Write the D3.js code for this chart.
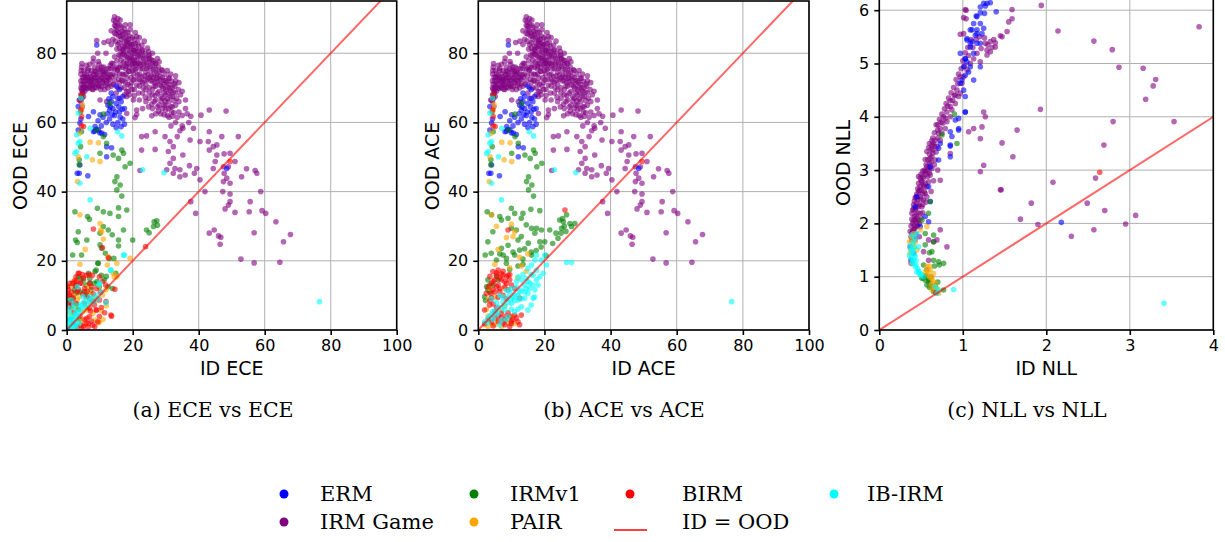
<!DOCTYPE html>
<html>
<head>
<meta charset="utf-8">
<script src="https://cdn.jsdelivr.net/npm/d3@7"></script>
<style>
  body { margin: 0; background: #fff; }
  svg { display: block; }
</style>
</head>
<body>
<div id="chart"></div>
<script>
// methods, legend order and colours
const methods = ["ERM", "IRM Game", "IRMv1", "PAIR", "BIRM", "IB-IRM"];
const methodColors = ["blue", "purple", "green", "orange", "red", "cyan"];
const drawOrder = ["IRM Game", "ERM", "IRMv1", "PAIR", "BIRM", "IB-IRM"];

// ---------- ECE (ID, OOD) ----------
const eceIrmGame = [
  // left streak + band
  [4.3,66],[4.3,68],[4.3,70],[4.3,72],[4.3,74],[4.5,76],[4.8,69],[4.8,73],[4.6,77],
  [5,70],[5,72],[5.5,74],[6,71],[6.5,73],[7,70],[7.5,72.5],[8,71],[8.5,73],[9,70],[9,74],
  [9.5,72],[10,70.5],[10.5,73],[11,71.5],[11.5,69.5],[12,72],[12.5,70],[6.5,75.5],[7.5,75],
  [8.5,76],[9.5,75.5],[10.5,76],[11,74.5],[12.5,74],[13,72.5],[13.5,70.5],[5.5,69],[8,69.5],
  [5.2,71],[5.8,73],[6.3,69.8],[6.8,72],[7.2,74],[7.8,70.8],[8.3,72.5],[8.8,74.6],[9.3,71.2],
  [9.8,73.5],[10.3,69.5],[10.8,71.8],[11.3,73.8],[11.8,70.6],[12.3,73],[12.8,75.5],[13.3,73.8],
  [5.1,67.5],[4.7,64.5],[5.2,75],[4.5,71],[6,76.5],[7,76.8],[8,77.5],
  [4.6,67],[4.9,68.5],[5.3,70.2],[5.6,71.8],[6,73.6],[6.4,75],[6.7,70.5],[7.1,71.8],[7.4,73.2],
  [7.7,69.6],[8.2,73.8],[8.6,70.2],[8.9,71.8],[9.2,73],[9.6,70.6],[10,72.2],[10.4,74.6],
  [10.6,70.4],[11,73],[11.5,72.3],[11.9,74.2],[12.2,71.2],[12.7,72.8],[13.1,71.2],[13.6,73.2],
  [6.2,72.3],[7.4,71],[8.5,74.8],[9.8,76.8],[11.2,76],[12,75.5],[13.2,76.5],[5.2,73.2],
  [4.5,69.5],[4.4,75],
  // blob
  [14,74],[14.5,72],[15,76],[15.5,70],[16,74],[16.5,78],[17,72],[17,76],[17.5,68],[18,74],
  [18,79],[18.5,71],[19,76],[19.5,73],[19,68],[20,78],[15,68.5],[16,67],[14,77],[13.5,75.5],
  [17.5,70],[18.5,77],[20,75],[16,71.5],[14.2,71],[14.8,73.5],[15.3,75],[15.8,72.5],[16.3,76.5],
  [16.8,74],[17.3,77.5],[17.8,75.5],[18.3,72.8],[18.8,74.8],[19.3,77.8],[19.8,76.5],[20.3,74],
  [20.6,77],[14.5,79],[15.8,79.5],[17,79.8],[18,77],[16.5,70],[17.8,71.5],[19.2,70.5],[18.7,69],
  [14.5,75.5],[15.2,77.8],[16,75.8],[16.7,72.3],[17.3,73.8],[18,76.2],[18.5,78.6],[19,74.8],
  [19.6,71.5],[20.2,72.3],[20.8,75.2],[21.5,73.8],[21.2,70.8],[20.5,67.8],[19.8,69.5],[18.2,67.5],
  [21.8,68.5],[22.5,71.8],[23.2,70],[22.8,73.2],[21.6,79.5],[20.5,80.8],[19.6,82.5],[18.3,83.5],
  [17.2,80.5],[16.2,79.2],[15.2,81.2],[14.8,83.5],[14.5,85.8],[14.9,87.8],[16.3,85],[17.6,81.8],
  // ridge
  [14.2,89.5],[14.5,88],[15,87],[15.5,88.5],[15,85.5],[16,86],[16.5,84],[17,85.5],[17.5,83],
  [18,84.5],[18.5,82],[19,83],[19.5,81],[20,82.5],[20.5,80],[21,81.5],[21.5,79],[22,80.5],
  [22.5,78],[23,79.5],[23.5,77],[24,78.5],[24.5,76],[25,77.5],[25.5,75],[26,76.5],[26.5,74],
  [27,75.5],[27.5,73],[28,74.5],[28.5,72],[29,73],[29.5,71],[30,72],[30.5,70],[31,71],
  [31.5,69],[32,70],[30,68],[29,67],[29.5,65],[30,63.5],[31,66],[32,67.5],[28,69],[27,70.5],
  [26,72],[25,73],[24,74.5],[23,75.5],[22,77],[21,78],[20,79.5],[19,80.5],[18,81.5],[17,82],
  [16,83],[15.5,82.5],[16.5,80.5],[17.5,79.5],[19,78.5],[21,75.5],[22,74],[20.5,84],[19,85],
  [17.5,87],[16.5,87.5],[15.5,90],[14.5,90.5],[13.5,86.5],[14,84],[13.5,82.5],[25,70],[26,68],
  [27,66.5],[28,65],[28.5,62.5],[30.5,62],[33,68.5],[34,71.5],[33,72],[35,69],[34,66],
  [32,64.5],[31,61.5],[27,62.5],[26,64],[24,66],[23,68.5],[22,70.5],[24,71],[26,69.5],
  [21,72.5],[23,64],[20.5,69.5],[22,66.5],[25,67],[36,66.5],[36,64],[33.5,61.5],[35,59],
  [37,60],[33,60],[18.5,86],[21.5,83],[23,81],[25,79.5],[27,77],[29,75],
  [14.8,89],[15.3,86.5],[15.8,85],[16.2,88],[16.8,86.3],[17.3,84.5],[17.8,86],[18.2,83],
  [18.8,84],[19.3,82],[19.8,84.5],[20.3,81],[20.8,82.8],[21.3,80.5],[21.8,82],[22.3,79.3],
  [22.8,80.8],[23.3,78.5],[23.8,80],[24.3,77.3],[24.8,79],[25.3,76.3],[25.8,78],[26.3,75.3],
  [26.8,77],[27.3,74.3],[27.8,76],[28.3,73.3],[28.8,75.2],[29.3,72.2],[29.8,74],[30.3,71.5],
  [30.8,72.8],[31.3,70],[31.8,71.8],[32.3,68.8],[32.8,70.5],[33.3,67],[33.8,69.5],[34.5,68],
  [30.5,66.8],[29.5,68.5],[28.5,67.5],[28.8,70.5],[27.5,68.5],[26.5,70.5],[25.5,72],[24.5,72.5],
  [23.5,73.5],[22.5,75.5],[21.5,77],[20.5,78],[29,64],[30,65],[31.5,64.5],[31.8,63],[29.5,62.2],
  [32.5,62.8],[16,81.5],[17,81],[18.5,80],[19.5,79],[20,77],[21,76.5],[22,72.5],[23,71.5],
  [24,69.5],[25,68.5],[26.5,66],[27.5,64.5],[35,62],[34,63],[36.5,62.5],[20.8,86],[22,84.5],
  [23.5,83.5],[24.5,81.5],[26,80],[27.5,78.5],[28,77.5],[30.5,75],[31.5,74],[33,73.5],
  [22.2,76.5],[23.2,76.8],[24.2,75.6],[24.6,73.8],[25.6,73.5],[26.2,73],[26.8,71.5],[27.6,71.8],
  [28.2,70.8],[29.2,69.8],[30,69.5],[30.8,68.5],[31.5,67.5],[32.5,66.3],[33,65],[32,61.8],
  [30.8,64],[28.6,66.2],[27.8,63.3],[29.8,66.3],[26.8,67.8],[25.8,65.3],[24.8,64.5],[23.8,67.3],
  [25.2,78.5],[26.2,77.8],[24.8,80.5],[22.8,82.3],[21.2,84.8],[19.2,86.8],[17.8,88.2],[16.2,89.6],
  [23.8,72.3],[27.2,72.8],[31.2,72.8],[32.6,71.2],
  // sparse upper
  [9.1,83.7],[11.3,83.1],[12.6,83.5],[9.6,77.6],[9.4,80],[11.9,80],[13.6,77.1],[8.1,78.6],
  [10.1,75.2],[15.4,75.2],[11.4,74.7],[7.6,72.3],[5.9,69.9],[19.2,88.2],[10.1,66.5],
  [12.1,66],[18.2,68.9],[20.2,66.5],[21.2,63.6],[21.2,62.3],[25.8,61.9],[18.2,62.6],[20.7,61.4],
  // sparse middle / right
  [22.7,55.9],[26.8,57.3],[24.2,56.1],[22.7,52],[26.8,52.2],[30.8,51.6],[32.3,53],[31.3,54.5],
  [29.8,55.9],[33.5,55.9],[35.2,50.6],[32.3,45.3],[30.3,46.3],[31.6,59],[34.3,57.6],[37.4,54.9],
  [22.2,46.1],[34.3,46.3],[35.9,44.8],[38.7,45.3],[39.4,46.7],[37.2,47.5],[32.8,46.7],
  [31.3,48.2],[32.3,49.6],[34.3,44.3],[40.4,43.4],[35.2,58.3],[38.4,58.3],[37.6,61.8],
  [40.7,62.1],[43.2,63.6],[48.3,63.3],[43.2,57.3],[47,55.9],[52,55.9],[40.4,54.5],[42.9,54.5],
  [44.4,53],[45.5,53.5],[43.2,52],[45.5,50.6],[47.7,50.9],[49.5,51.1],[51,48.7],[45,48.7],
  [44.4,46.7],[47.5,47.2],[49,47.2],[54.5,46.6],[57.1,46.1],[57.6,45.3],[47.7,45.3],[48.5,43.9],
  [53,44.3],[47.5,42.9],[49.5,42.4],[41.9,40],[47.3,40],[49.5,39.3],[58.8,40],[55.6,37.1],
  [49.5,37.1],[49,36.1],[48,35],[51,34],[55.3,34.2],[59.2,34.5],[60.3,33.7],[39.1,33.7],
  [37.6,37.1],[43.2,28],[44.7,28.9],[46,27.2],[46.7,26.8],[46.5,24.8],[56.8,28.1],[63.4,31.3],
  [65.7,25.5],[67.8,27.6],[52.8,20.5],[56.8,19.4],[64.6,19.6]
];
const eceErm = [
  [12.5,65],[13,63.5],[13.5,66],[14,64],[14.5,62],[15,65.5],[15.5,60],[16,63],[16.5,66],
  [17,61],[17.5,64],[13,61],[14,59.5],[15,58.5],[16.5,58.8],[12.3,62.5],[17,67.5],[15.5,67],
  [14,67.5],[13.5,68.5],[16,69.5],[15,70.5],[17.5,59.5],[12,60],[11,61.5],[10.5,59],[9.5,60.5],
  [9,58],[10,57],[11.5,56.5],[8.5,57.5],[9.1,82.4],[3.5,64.6],[3.8,45.3],[3.2,45.3],[6.4,44.6],
  [8.1,63.1],[8.6,58.8],[9.6,57.8],[8.1,57.3],[10.6,56.9],[6.6,61.7],[10.1,62.2],[12.1,53],
  [13.6,52.7],[12.1,50.1],[4,47.7],[48.5,46.7],[3.8,66.5],[4,59.8],[3.5,57.8],[4.3,61],
  [13.2,64.5],[14.8,63],[16.2,61.5],[15.8,64.5],[13.8,62.2],[16.8,63.8],[12.8,66.8]
];
const irmv1Upper = [
  [11.1,62.4],[13.1,65.5],[9.1,57.8],[11.1,55.9],[12.1,54],[10.1,51.1],[14.1,50.6],[16.7,52],
  [17.2,51.1],[15.7,49.6],[19.2,48.2],[17.7,47.2],[15.2,44.3],[16.2,41.9],[16.7,38.7],
  [15.2,40.5],[14.6,42.9],[4.5,67.5],[4.2,63],[4.5,57.3],[4.2,53],[3.8,49.2],[3.8,47.8]
];
const eceIrmv1Low = [
  [18.2,34.7],[15.7,35.3],[13.1,33.7],[11.1,34.2],[9.3,35.2],[2.5,34.2],[6.3,32.8],[6.9,32],
  [3.5,28.4],[2.7,26],[3.2,25.3],[4.5,21.7],[1.8,21.7],[6.1,26],[10.1,28],[11.1,29.9],
  [12.6,28.9],[13.8,27.5],[10.1,24.6],[10.6,23.6],[11.7,22.2],[12.9,20.7],[14.3,20.7],
  [9.6,19.3],[8.6,16.9],[6.6,16.4],[5.1,14.5],[7.1,13.5],[3.5,15.4],[24.2,28.9],[25,28.1],
  [26.5,31.3],[27.3,31.6],[27.5,30.3],[26.3,29.9],[20,26],[17.2,28.9],[15.7,32.8],[15.7,26],
  [15.7,24.3],[8.4,13.5],[9.9,12.5],[11.4,14.5],[7.4,11.6],[5.4,11.1],[2.8,10.6],[2.3,11.6],
  [8.9,17.3],[9.4,19.3],[13.9,12],[14.9,16.4],[4.3,14.9],[1,9],[3,7.5],
  [0.8,8],[1.8,9.2],[2.8,13],[4,11],[5.8,13],[7,14.8],[9.2,14],[10.5,15.8],[6.2,10],[3.5,6],
  [1.5,6.5],[12.5,12.5],[12,15.5],[3.8,3]
];
const pairUpper = [
  [4.5,63.6],[3.8,56.9],[7.1,54.3],[9.6,54.1],[7.8,49.2],[10.1,48.7],[3.3,42.9],[3.5,50.1],[4.8,65]
];
const ecePairLow = [
  [4,33.3],[10.1,30.8],[10.6,28.4],[11.1,26.3],[5.6,23.3],[4,19],[12.3,18.8],[12.6,21.2],
  [15.2,19.3],[19.2,20.7],[10.3,28.9],[15.2,15.4],[14.1,16.4],[6.3,12.5],[9.6,2.1],[8.6,2.9],
  [6.3,5.8],[2.5,7.2],[1.5,3.9],[4.7,2.9],[1,5.3],[4.9,5.3],[7.9,4.8],[9.9,2.4],[1.8,5.8],
  [2.8,3.4],[8.4,9.6],[9.7,12.5],[7.4,7.7],[3.8,9.6],[10.9,10.1],[11.9,11.6],[14.4,15.4],
  [2,10],[3.2,8.7],[6,6.5],[7,11],[8.8,8.5],[5,1.5],[3.2,1],[11,3],[12,7],[10.5,5.5],[1,12.5],[2,14]
];
const birmUpper = [
  [4.5,68],[4,66.5],[4.5,61.7],[4.5,59],[5.1,58.8],[4.3,63.6],[49.5,48.7]
];
const eceBirmLow = [
  [8.1,29.2],[10.8,23.8],[12.6,20.9],[14.6,11.8],[13.6,4],[23.9,24.1],[3.5,16.4],[2.8,15.4],
  [4,13.5],[1,13.5],[0.5,11.6],[0.5,7.7],[2,9.2],[8.1,8.2],[9.1,5.8],[6.1,3.4],[6.6,1.9],
  [5.1,1],[3.8,16.4],[4.3,13.5],[1.8,13.5],[5.4,12],[6.9,13.5],[7.5,12.5],[9.9,15.4],[10.9,14],
  [1.3,9.6],[2.8,7.7],[5.9,9.6],[5.4,7.7],[6.9,6.3],[8.9,5.8],[9.9,3.9],[6.9,3.9],[5.9,1.9],
  [7.9,1.4],[9.4,2.4],[4.3,1.4],[8.4,7.2],[13.4,4.3],[11.9,8.2],[9.9,8.7],[0.3,12.5],
  [0.3,10.6],[0.8,6.7],[3.2,11],[6,15.8],[4.8,16],
  [1.5,11],[2.5,12.8],[3.5,11.8],[4.8,10.5],[6.2,11.2],[7,9],[8,10.5],[9,12],[1,3],[2,2],[3,1],
  [4.5,0.5],[5.5,3],[7.5,2.5],[8.5,1],[6.5,0.8],[7.2,5.5],[10.5,6.5],[11.5,5],[4,4],[2.2,5],
  [1.5,8],[0.8,10],[3,14],[5,15],[7.8,15.8],[10.2,11],[11.8,13],[6.8,16],[2.5,14.3]
];
const ibirmUpper = [
  [3.5,62.7],[7.1,58.3],[16.7,56.1],[15.4,57.3],[3,56.4],[3.5,54],[2.5,51.1],[6.1,50.1],
  [4,42.4],[23,46.3],[29.5,45.5],[4.3,67],[4,54.5],[3,51.6]
];
const eceIbIrmLow = [
  [7.1,37.6],[17.2,21.7],[13.3,17.3],[10.1,13.5],[76.6,8.2],[0.3,1],[1.3,1.9],[0.8,2.9],
  [2.3,2.9],[1.8,4.3],[3.3,3.9],[2.8,5.3],[0.8,5.3],[4.3,5.8],[3.8,7.2],[5.4,6.7],[5.9,8.7],
  [4.9,9.6],[6.9,8.2],[7.9,9.2],[8.9,10.1],[3.8,1.9],[0.3,3.9],[11.9,7.9],[13.4,17.3],
  [17.5,21.7],[9.7,13],[1.3,8.7],[3.3,12.5],[1.5,0.8],[2.5,1.5],[0.6,0.5],[2,6.5],[1.2,3.2],
  [1,1],[2,1],[3,2.2],[0.5,2],[1.5,3],[2.5,4],[3.5,5],[4.5,7],[5,8],[0.4,6.5],[2.2,7.5],
  [6.2,7.2],[7,9.5],[8,8],[9.5,9],[10.5,11],[1.2,0.3],[2.8,0.6],[0.3,0.3]
];

// ---------- ACE (ID, OOD) ----------
const aceIrmGame = eceIrmGame;
const aceErm = eceErm;
const aceIrmv1Low = [
  [2.7,34.2],[4,33.3],[6.5,32.8],[7,31.8],[10,35.2],[9,32.3],[11,33.7],[13,32.3],[13.5,33.7],
  [15.9,34.9],[18.6,34.5],[14.5,30.4],[16.1,29.4],[17.6,29.4],[19.1,28.9],[21.6,28.9],[17.1,28],
  [18.6,25.5],[20.1,25.5],[24.6,31.8],[25.7,31.3],[26,30],[25.2,29.4],[27.7,30.8],[28.2,29.9],
  [26.7,33.3],[25.5,32.2],[24.1,26.5],[29.2,30.8],[4.4,28.4],[2.9,25.5],[2.1,21.7],[3.9,22.2],
  [5.5,20.2],[7,23.6],[7.5,21.7],[8.5,20.7],[11,21.7],[12.5,23.1],[12,26],[11.5,28.9],[13,27],
  [15.1,25.1],[16.1,21.7],[8.5,19.3],[2.9,14.5],[2.9,11.6],[1.9,9.6],[10,29.4],[3.5,13],
  [5.5,15.5],[13.5,19],[25,28],[26.5,28.5],[16,22.5],
  [2.5,12.5],[3.5,11],[2.2,8.5],[4.5,13],[6,14.5],[9.5,17.5],[12,18.5],[13.5,20.5],[10.5,22.5],
  [6.5,22],[9,24.5],[14,23.5],[17.5,23],[19,24],[20.5,21.5],[22.5,25],[23.5,28]
];
const acePairLow = [
  [4,33.3],[10,30.6],[11,28.4],[10.5,27],[6,23.3],[12.5,21],[13,18.5],[5,19],[3.5,12],
  [5,9.5],[8,7],[10,4],[3,4],[6,2.5],[12,15],[14.5,17],[15,22],[5.5,30],[8.5,26.7],[2,1.5],
  [9,3],[7,5.5],[3,1],[4,2],[5,1.5],[7,1],[9,2],[11,1.8],[2.5,6],[3,9],[8,12],[9.5,18]
];
const aceBirmLow = [
  [26.2,34.7],[9,28.9],[4.4,16.9],[6,17.3],[7.5,15.9],[8.5,15.4],[9.5,14.5],[7,14.5],[5,14.5],
  [4,13.5],[6,13],[8,12.5],[10,13],[3,12.5],[4.4,11.6],[6.5,11.1],[9,11.6],[2.4,10.6],[4,9.2],
  [3.4,7.2],[1.9,5.8],[5,5.3],[7,4.8],[9.5,3.9],[8,2.9],[6,2.4],[11,4.3],[12,2.4],[10,1.9],
  [4,2.4],[13,4.3],[12.5,9.2],[1.9,1.9],[5.5,15.8],[7,16.2],[8,14],[6.5,12],[3.5,8.5],[8.5,4],
  [10.5,3],[7,3.5],[5,3.5],[11,12],[9,15.8],[5.5,12.5],
  [3.5,15.5],[4.5,14],[5.5,16.5],[6.5,15],[7.5,17],[8.5,13.5],[9.5,16],[3.8,10.5],[5,11],
  [6,9.5],[7.5,10],[8.5,9],[4.5,7.5],[6,4],[7.5,2],[9,5],[10,2.5],[11.5,3.5],[12.5,1.5],
  [4.5,1.2],[3,3],[5.5,6.5],[8,1.5],[9.5,1]
];
const aceIbIrmLow = [
  [7,37.6],[26.7,19.5],[28.2,19.5],[17.6,21.7],[20.1,21.7],[20.6,18.8],[19.1,20.2],[17.1,20.2],
  [16.1,18.8],[15,17.8],[17.6,17.3],[16.6,15.9],[14.5,14.9],[13,14.5],[15.6,13.5],[17.6,14.5],
  [17.1,11.6],[15,10.6],[16.6,9.2],[14,9.2],[12,8.7],[13,6.7],[15,5.8],[16,7.2],[11,10.1],
  [10,12],[11.5,12.5],[9,9.6],[7.5,8.2],[6,6.7],[4.4,5.3],[3.4,3.9],[1.9,2.4],[10,7.7],[8,5.8],
  [11,5.3],[9,3.9],[7,2.9],[5.4,4.3],[13.5,16],[12,15.4],[18.1,13],[18.6,15.4],[19.6,16.4],
  [76.6,8.2],[4,9],[6.5,10],[8.5,11.5],[12.5,11],[14.5,12],[2.8,2],[4.5,3],[10.5,9.5],
  [3,3.5],[4,4.5],[5,5.5],[6,5],[7,6.5],[8,7],[9,8],[10,9],[11,8.5],[12,10],[13,11.5],[14,13],
  [15,14],[16,16],[14,11],[13,9],[12,6],[10,6],[8.5,3],[6.5,1.5],[15.5,12],[16.5,13],[17,9.5],
  [11.5,14],[9.5,11],[7.5,9.5],[5.5,8]
];

// ---------- NLL (ID, OOD) ----------
const nllIrmGame = [
  [0.41,1.88],[0.4,2],[0.42,2.13],[0.43,2.25],[0.45,2.38],[0.44,2.5],[0.47,2.59],[0.49,2.69],
  [0.51,2.78],[0.52,2.88],[0.55,2.97],[0.57,3.06],[0.6,3.13],[0.63,3.25],[0.64,3.38],[0.65,3.5],
  [0.67,3.56],[0.71,3.69],[0.73,3.78],[0.76,3.88],[0.79,3.97],[0.81,4.09],[0.85,4.19],
  [0.88,4.31],[0.91,4.41],[0.93,4.5],[0.99,4.63],[1.01,4.75],[1.05,4.88],[1.09,5],[1.13,5.09],
  [1.17,5.19],[1.22,5.28],[1.27,5.38],[1.33,5.41],[1.37,5.45],[1.47,5.5],[1.21,5.03],[1.29,5.25],
  [1.01,5.56],[1.04,5.84],[1.04,6],[0.39,1.81],[0.45,1.94],[0.47,2.06],[0.49,2.19],[0.51,2.31],
  [0.53,2.44],[0.55,2.56],[0.57,2.69],[0.59,2.78],[0.61,2.91],[0.63,3.03],[0.58,2.88],
  [0.53,2.69],[0.49,2.5],[0.43,2.06],[0.39,2.19],[0.47,2.31],[0.67,3.19],[0.68,3.34],
  [0.63,3.47],[0.69,3.44],[0.73,3.56],[0.75,3.69],[0.79,3.78],[0.81,3.91],[0.85,4],[0.87,4.13],
  [0.91,4.25],[0.95,4.38],[0.97,4.44],[0.85,3.31],[0.73,2.81],[0.73,1.88],[0.81,1.56],
  [0.59,1.69],[0.65,1.66],[0.69,1.69],[0.53,1.47],[0.59,1.31],[1.07,3.72],[1.13,3.78],
  [1.23,3.81],[1.21,3.59],[1.25,3.09],[1.21,2.97],[1.27,4],[1.25,4.09],[1.45,2.63],
  [1.94,6.09],[2.14,5.61],[2.57,5.42],[2.79,5.26],[2.87,4.93],[3.16,4.91],[3.31,4.7],[3.28,4.58],
  [3.19,4.33],[3.83,5.69],[3.53,3.91],[2.8,3.91],[1.93,4.14],[1.65,3.75],[1.47,3.51],[1.6,3.25],
  [2.69,3.47],[2.59,2.85],[2.08,2.77],[1.46,2.63],[1.82,2.38],[2.49,2.38],[2.7,2.24],[3.07,2.15],
  [1.69,2.08],[1.9,1.98],[2.95,1.99],[2.57,1.88],[2.3,1.76],[1.59,6.01],[1.03,6.01],[1.01,5.86],
  [0.97,5.55],[1.55,5.78],[1.59,5.84],[1.53,5.6],[1.45,5.52],[1.39,5.39],[1.39,5.31],[1.33,5.22],
  [1.29,5.16],[0.41,2.35],[0.44,2.15],[0.46,1.95],[0.5,2.45],[0.54,2.6],[0.6,2.95],[0.66,3.1],
  [0.38,1.75],[0.4,1.85],[0.42,1.95],[0.38,1.95],[0.41,2.05],[0.45,2.1],[0.4,2.25],[0.44,2.3],
  [0.42,2.42],[0.46,2.45],[0.45,2.55],[0.48,2.62],[0.47,2.75],[0.5,2.8],[0.53,2.85],[0.5,2.92],
  [0.54,3],[0.56,3.1],[0.58,3.2],[0.6,3.3],[0.62,3.4],[0.6,3.5],[0.64,3.6],[0.66,3.7],[0.7,3.75],
  [0.68,3.85],[0.72,3.95],[0.75,4.05],[0.78,4.15],[0.8,4.25],[0.83,4.35],[0.86,4.45],[0.89,4.55],
  [0.92,4.7],[0.95,4.8],[0.98,4.9],[1.0,5.05],[1.03,5.2],[1.06,5.3],[1.1,5.45],[0.44,1.8],
  [0.52,2.2],[0.56,2.4],[0.62,2.6],[0.65,2.8],[0.7,3.0],[0.62,3.15],[0.57,2.5],[0.5,2.1],
  [0.48,1.75],[0.43,1.7],[0.4,1.72],
  [0.37,1.85],[0.39,2.08],[0.41,2.28],[0.43,2.48],[0.46,2.65],[0.49,2.85],[0.52,2.98],[0.55,3.2],
  [0.57,3.35],[0.59,3.42],[0.63,3.55],[0.66,3.45],[0.7,3.6],[0.61,3.22],[0.58,3.0],[0.55,2.75],
  [0.52,2.55],[0.48,2.35],[0.46,2.2],[0.42,1.9],[0.45,2.02],[0.5,2.62],[0.53,2.72],[0.56,2.92],
  [0.6,3.05],[0.64,3.32],[0.7,3.85],[0.74,3.9],[0.77,4.0],[0.82,4.2],[0.85,4.3],[0.9,4.4],
  [0.94,4.62],[0.97,4.75],[1.02,4.95],[1.07,5.15],[1.12,5.3],[1.16,5.45],[1.2,5.5],[1.26,5.48],
  [1.3,5.35],[1.35,5.3],[0.48,2.0],[0.52,2.35],[0.47,2.88]
];
const nllErm = [
  [1.29,6.13],[1.25,6.13],[1.21,6.06],[1.26,5.94],[1.17,5.88],[1.13,5.75],[1.21,5.75],[1.09,5.63],
  [1.17,5.63],[1.15,5.53],[1.23,5.56],[1.05,5.44],[1.11,5.41],[1.17,5.38],[0.97,5.19],[1.09,5.31],
  [1.03,5.09],[1.05,5.03],[1.09,4.94],[1.01,4.94],[1.03,4.78],[0.99,4.69],[1.01,4.5],[0.97,4.63],
  [1.03,4.38],[1.03,4.09],[0.91,3.94],[0.95,3.97],[0.95,3.78],[0.85,3.72],[0.87,3.63],[0.85,3.45],
  [0.73,3.5],[0.71,3.41],[0.85,3.25],[0.71,3.19],[0.61,3.06],[0.59,2.69],[0.61,2.41],[0.45,2.5],
  [0.43,2.31],[0.55,2.13],[0.59,2.03],[0.49,1.94],[0.39,1.69],[0.37,1.56],[0.41,1.44],[0.38,1.31],
  [1.16,5.89],[1.21,5.95],[1.27,6.08],[1.33,6.14],[1.4,5.97],[1.11,5.63],[1.17,5.56],[1.25,5.66],
  [1.05,5.47],[1.09,5.38],[1.21,5.38],[1.13,5.19],[1.03,5.09],[1.21,4.94],[1.07,4.84],[1.13,4.69],
  [1.03,4.09],[0.95,3.75],[0.85,3.47],[2.18,2.02]
];
const nllIrmv1 = [
  [0.75,3.66],[0.93,3.5],[0.61,2.41],[0.59,2.19],[0.51,2.06],[0.55,1.81],[0.65,1.78],[0.63,1.47],
  [0.65,1.31],[0.71,1.28],[0.77,1.25],[0.53,1.22],[0.57,1.13],[0.51,0.97],[0.55,0.94],[0.59,0.91],
  [0.63,0.81],[0.67,0.84],[0.65,0.72],[0.61,0.88],[0.77,0.75],[0.57,1],[0.9,4.05],[0.6,0.95],
  [0.55,1.02],[0.53,0.98],[0.57,0.85],[0.6,0.8],[0.66,0.75],[0.68,0.78],[0.7,0.9],[0.62,1.0],
  [0.66,1.2],[0.72,1.22],[0.6,1.45],[0.65,1.65],[0.55,1.6]
];
const nllPair = [
  [0.41,1.81],[0.49,1.88],[0.57,1.94],[0.41,1.56],[0.45,1.5],[0.39,1.75],[0.57,1.19],[0.61,1.13],
  [0.59,1.03],[0.63,0.97],[0.67,0.88],[0.69,0.78],[0.55,1.09],[0.65,1.06],[0.71,0.69],[0.63,0.75],
  [0.37,1.44],[0.43,1.65],[0.38,1.5],[0.4,1.62],[0.36,1.65],[0.39,1.7],[0.6,1.0],[0.62,0.85],
  [0.66,0.8],[0.64,0.92],[0.6,1.2],[0.7,0.72],[0.58,1.1]
];
const nllBirm = [[2.64,2.96],[0.38,1.25],[0.68,0.7]];
const nllIbIrm = [
  [0.39,1.78],[0.41,1.66],[0.47,1.56],[0.39,1.47],[0.43,1.38],[0.39,1.25],[0.43,1.19],[0.45,1.09],
  [0.49,1.03],[0.69,0.69],[0.71,0.75],[0.89,0.76],[0.67,0.81],[0.37,1.53],[0.43,1.72],[0.45,1.81],
  [0.53,1],[3.41,0.5],[0.41,1.32],[0.47,1.1],[0.38,1.6],[0.4,1.5],[0.42,1.42],[0.38,1.35],
  [0.4,1.28],[0.44,1.22],[0.46,1.15],[0.48,1.07],[0.5,1.05],[0.44,1.3],[0.42,1.55],[0.36,1.4]
];

const eceTicks = [0, 20, 40, 60, 80, 100];
const eceYTicks = [0, 20, 40, 60, 80];
const nllTicks = [0, 1, 2, 3, 4];
const nllYTicks = [0, 1, 2, 3, 4, 5, 6];
const captions = ["(a) ECE vs ECE", "(b) ACE vs ACE", "(c) NLL vs NLL"];

const panels = [
  { left: 66.7, right: 396.7, top: 1, xMax: 100, yMax: 95.1, xTicks: eceTicks, yTicks: eceYTicks,
    xLabel: "ID ECE", yLabel: "OOD ECE", yLabelX: 20, caption: captions[0],
    data: { "ERM": eceErm, "IRM Game": eceIrmGame, "IRMv1": irmv1Upper.concat(eceIrmv1Low),
            "PAIR": pairUpper.concat(ecePairLow), "BIRM": birmUpper.concat(eceBirmLow),
            "IB-IRM": ibirmUpper.concat(eceIbIrmLow) } },
  { left: 478.3, right: 809, top: 1, xMax: 100, yMax: 95.1, xTicks: eceTicks, yTicks: eceYTicks,
    xLabel: "ID ACE", yLabel: "OOD ACE", yLabelX: 432, caption: captions[1],
    data: { "ERM": aceErm, "IRM Game": aceIrmGame, "IRMv1": irmv1Upper.concat(aceIrmv1Low),
            "PAIR": pairUpper.concat(acePairLow), "BIRM": birmUpper.concat(aceBirmLow),
            "IB-IRM": ibirmUpper.concat(aceIbIrmLow) } },
  { left: 879.3, right: 1213.3, top: -1, xMax: 4, yMax: 6.21, xTicks: nllTicks, yTicks: nllYTicks,
    xLabel: "ID NLL", yLabel: "OOD NLL", yLabelX: 843, caption: captions[2],
    data: { "ERM": nllErm, "IRM Game": nllIrmGame, "IRMv1": nllIrmv1, "PAIR": nllPair,
            "BIRM": nllBirm, "IB-IRM": nllIbIrm } }
];

const W = 1225, H = 542, bottom = 330;
const sans = "'DejaVu Sans', sans-serif";
const serif = "'DejaVu Serif', serif";
const color = d3.scaleOrdinal().domain(methods).range(methodColors);

const svg = d3.select("#chart").append("svg")
  .attr("width", W).attr("height", H)
  .attr("viewBox", [0, 0, W, H]);

panels.forEach((p, i) => {
  const x = d3.scaleLinear().domain([0, p.xMax]).range([p.left, p.right]);
  const y = d3.scaleLinear().domain([0, p.yMax]).range([bottom, p.top]);
  const g = svg.append("g");

  svg.append("clipPath").attr("id", "clip" + i)
    .append("rect")
    .attr("x", p.left).attr("y", p.top)
    .attr("width", p.right - p.left).attr("height", bottom - p.top);

  // grid
  g.append("g").selectAll("line").data(p.xTicks).join("line")
    .attr("x1", d => x(d)).attr("x2", d => x(d))
    .attr("y1", p.top).attr("y2", bottom)
    .attr("stroke", "#b0b0b0").attr("stroke-width", 1);
  g.append("g").selectAll("line").data(p.yTicks).join("line")
    .attr("x1", p.left).attr("x2", p.right)
    .attr("y1", d => y(d)).attr("y2", d => y(d))
    .attr("stroke", "#b0b0b0").attr("stroke-width", 1);

  // points
  const pts = g.append("g").attr("clip-path", `url(#clip${i})`);
  drawOrder.forEach(m => {
    pts.append("g").selectAll("circle").data(p.data[m]).join("circle")
      .attr("cx", d => x(d[0])).attr("cy", d => y(d[1]))
      .attr("r", 2.8)
      .attr("fill", color(m)).attr("fill-opacity", 0.6);
  });

  // ID = OOD line
  g.append("line")
    .attr("clip-path", `url(#clip${i})`)
    .attr("x1", x(0)).attr("y1", y(0))
    .attr("x2", x(p.xMax * 2)).attr("y2", y(p.xMax * 2))
    .attr("stroke", "red").attr("stroke-opacity", 0.6).attr("stroke-width", 2);

  // axes
  const xAxis = g.append("g").attr("transform", `translate(0,${bottom})`)
    .call(d3.axisBottom(x).tickValues(p.xTicks).tickFormat(d3.format("d")).tickSize(5).tickPadding(5));
  const yAxis = g.append("g").attr("transform", `translate(${p.left},0)`)
    .call(d3.axisLeft(y).tickValues(p.yTicks).tickFormat(d3.format("d")).tickSize(5).tickPadding(5));
  [xAxis, yAxis].forEach(a => {
    a.select(".domain").remove();
    a.selectAll(".tick line").attr("stroke", "#000").attr("stroke-width", 1.6);
    a.selectAll(".tick text").attr("fill", "#000")
      .style("font-family", sans).style("font-size", "16px");
  });

  // spines
  g.append("rect")
    .attr("x", p.left).attr("y", p.top)
    .attr("width", p.right - p.left).attr("height", bottom - p.top)
    .attr("fill", "none").attr("stroke", "#000").attr("stroke-width", 1.6);

  // labels
  const cx = (p.left + p.right) / 2;
  g.append("text").attr("x", cx).attr("y", 375)
    .attr("text-anchor", "middle")
    .style("font-family", sans).style("font-size", "19px")
    .text(p.xLabel);
  g.append("text")
    .attr("transform", `translate(${p.yLabelX},${i === 2 ? 163 : 166}) rotate(-90)`)
    .attr("text-anchor", "middle").attr("dominant-baseline", "central")
    .style("font-family", sans).style("font-size", "19px")
    .text(p.yLabel);
  g.append("text").attr("x", [213, 624, 1027][i]).attr("y", 410)
    .attr("text-anchor", "middle").attr("dominant-baseline", "central")
    .style("font-family", serif).style("font-size", "20.5px")
    .text(p.caption);
});

// legend (column-wise, 4 columns)
const legendItems = [
  { name: "ERM", col: 0, row: 0 }, { name: "IRM Game", col: 0, row: 1 },
  { name: "IRMv1", col: 1, row: 0 }, { name: "PAIR", col: 1, row: 1 },
  { name: "BIRM", col: 2, row: 0 }, { name: "ID = OOD", col: 2, row: 1, line: true },
  { name: "IB-IRM", col: 3, row: 0 }
];
const colMarker = [284, 474, 630, 834];
const colText = [320, 510, 682, 867];
const rowY = [494, 522];
const legend = svg.append("g");
legendItems.forEach(it => {
  const yy = rowY[it.row];
  if (it.line) {
    legend.append("line")
      .attr("x1", 614).attr("x2", 647).attr("y1", yy + 8).attr("y2", yy + 8)
      .attr("stroke", "red").attr("stroke-width", 1.3);
  } else {
    legend.append("circle")
      .attr("cx", colMarker[it.col]).attr("cy", yy).attr("r", 4.5)
      .attr("fill", color(it.name));
  }
  legend.append("text")
    .attr("x", colText[it.col]).attr("y", yy)
    .attr("dominant-baseline", "central")
    .style("font-family", serif).style("font-size", "21px")
    .text(it.name);
});
</script>
</body>
</html>
